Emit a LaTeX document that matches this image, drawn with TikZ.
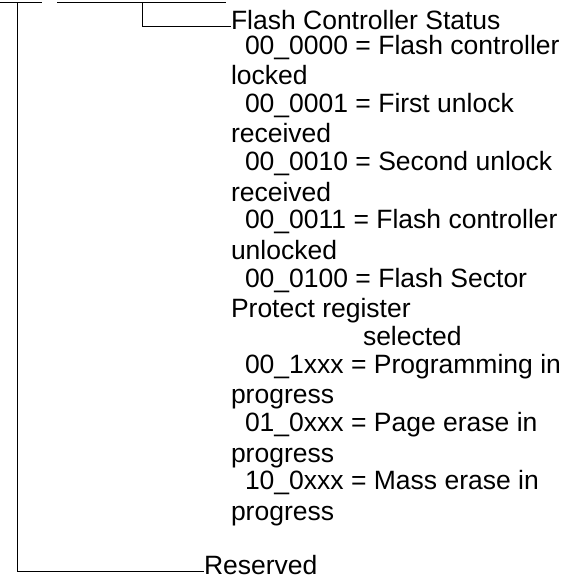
\documentclass[tikz,border=0pt]{standalone}
\usepackage{fontspec}
\setmainfont{Liberation Sans}
\usepackage{tikz}
\usetikzlibrary{positioning, calc}

\begin{document}
\begin{tikzpicture}[
            x=1pt, y=1pt,
            node distance=4.5pt and 0pt,
            leader/.style={line width=0.8pt, black},
            fieldtext/.style={inner sep=0pt, outer sep=0pt, align=left, font=\fontsize{26.5}{27.8}\selectfont}
        ]
            \useasboundingbox (0,0) rectangle (569,-579);

            % Borde inferior del registro
            \draw [leader] (0,-2.5) -- (42,-2.5);
            \draw [leader] (57,-2.5) -- (226,-2.5);
            \coordinate (resbit) at (17.5,-2.5);
            \coordinate (statusbit) at (142,-2.5);

            % Descripciones de los campos
            \node (status) [fieldtext, anchor=base west] at (231,-29.5) {Flash Controller Status};
            \node (codes) [fieldtext, below right=of status.base west] {\rule{0pt}{20pt}%
              \hspace*{14pt}00\_0000 = Flash controller\\[2.7pt]
              locked\\
              \hspace*{14pt}00\_0001 = First unlock\\[2.7pt]
              received\\
              \hspace*{14pt}00\_0010 = Second unlock\\[2.7pt]
              received\\
              \hspace*{14pt}00\_0011 = Flash controller\\[2.7pt]
              unlocked\\
              \hspace*{14pt}00\_0100 = Flash Sector\\[2.7pt]
              Protect register\\
              \hspace*{132pt}selected\\
              \hspace*{14pt}00\_1xxx = Programming in\\[2.7pt]
              progress\\
              \hspace*{14pt}01\_0xxx = Page erase in\\[2.7pt]
              progress\\
              \hspace*{14pt}10\_0xxx = Mass erase in\\[2.7pt]
              progress};
            \node (reserved) [fieldtext, anchor=base west] at (204,-574) {Reserved};

            % Conexiones de los bits
            \draw [leader] (statusbit) |- (status.mid west);
            \draw [leader] (resbit) |- (reserved.mid west);

        \end{tikzpicture}
\end{document}
